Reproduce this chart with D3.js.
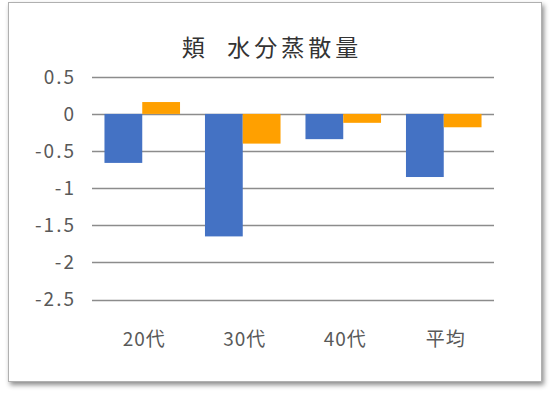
<!DOCTYPE html>
<html>
<head>
<meta charset="utf-8">
<script src="https://cdn.jsdelivr.net/npm/d3@7"></script>
<style>
  body { margin: 0; background: #fff; }
  #content { width: 550px; height: 395px; }
  text { font-family: "Noto Sans CJK JP", "Noto Sans", sans-serif; }
</style>
</head>
<body>
<div id="content"></div>
<script>
var width = 550;
var height = 395;

var title = "頬  水分蒸散量";
var categories = ["20代", "30代", "40代", "平均"];
var series1 = [-0.66, -1.65, -0.34, -0.85];
var series2 = [0.16, -0.40, -0.12, -0.18];
var yTicks = [0.5, 0, -0.5, -1, -1.5, -2, -2.5];
var colors = ["#4472C4", "#FFA000"];

var svg = d3.select('div#content').append('svg')
  .attr('width', width)
  .attr('height', height);

var defs = svg.append("defs");
var shadow = defs.append("filter")
  .attr("id", "shadow")
  .attr("x", "-5%").attr("y", "-5%")
  .attr("width", "112%").attr("height", "115%");
shadow.append("feDropShadow")
  .attr("dx", 2).attr("dy", 3)
  .attr("stdDeviation", 2.5)
  .attr("flood-color", "#000")
  .attr("flood-opacity", 0.45);

// chart frame
svg.append('rect')
  .attr('x', 8.5).attr('y', 2.5)
  .attr('width', 533).attr('height', 379)
  .attr('fill', '#fff')
  .attr('stroke', '#b0b0b0')
  .attr('stroke-width', 1)
  .attr('filter', 'url(#shadow)');

var x = d3.scaleBand()
  .domain(categories)
  .range([92, 494]);

var inner = d3.scaleBand()
  .domain([0, 1])
  .range([0, x.bandwidth()])
  .paddingOuter(0.33)
  .paddingInner(0);

var y = d3.scaleLinear()
  .domain([-2.5, 0.5])
  .range([299.5, 76.8]);

// grid lines
svg.append('g')
  .selectAll('line')
  .data(yTicks)
  .enter()
  .append('line')
  .attr('x1', 92).attr('x2', 494)
  .attr('y1', function(d){ return Math.round(y(d)) + 0.5; })
  .attr('y2', function(d){ return Math.round(y(d)) + 0.5; })
  .attr('stroke', '#8c8c8c')
  .attr('stroke-width', 1.3);

// y labels
svg.append('g')
  .selectAll('text')
  .data(yTicks)
  .enter()
  .append('text')
  .attr('x', 76)
  .attr('y', function(d){ return y(d); })
  .attr('dy', '0.36em')
  .attr('text-anchor', 'end')
  .attr('font-size', '19px')
  .attr('letter-spacing', '2px')
  .attr('fill', '#595959')
  .text(function(d){ return d; });

// bars
var seriesList = [series1, series2];
seriesList.forEach(function(values, s){
  svg.append('g')
    .selectAll('rect')
    .data(values)
    .enter()
    .append('rect')
    .attr('x', function(d, i){ return x(categories[i]) + inner(s); })
    .attr('width', inner.bandwidth())
    .attr('y', function(d){ return y(Math.max(0, d)); })
    .attr('height', function(d){ return Math.abs(y(d) - y(0)); })
    .attr('fill', colors[s]);
});

// x labels
svg.append('g')
  .selectAll('text')
  .data(categories)
  .enter()
  .append('text')
  .attr('x', function(d){ return x(d) + x.bandwidth() / 2 + 2; })
  .attr('y', 346)
  .attr('text-anchor', 'middle')
  .attr('font-size', '19px')
  .attr('letter-spacing', '1px')
  .attr('fill', '#595959')
  .text(function(d){ return d; });

// title
svg.append('text')
  .attr('x', 272)
  .attr('y', 56)
  .attr('text-anchor', 'middle')
  .attr('font-size', '23px')
  .attr('letter-spacing', '4px')
  .attr('fill', '#333333')
  .style('white-space', 'pre')
  .text(title);
</script>
</body>
</html>
